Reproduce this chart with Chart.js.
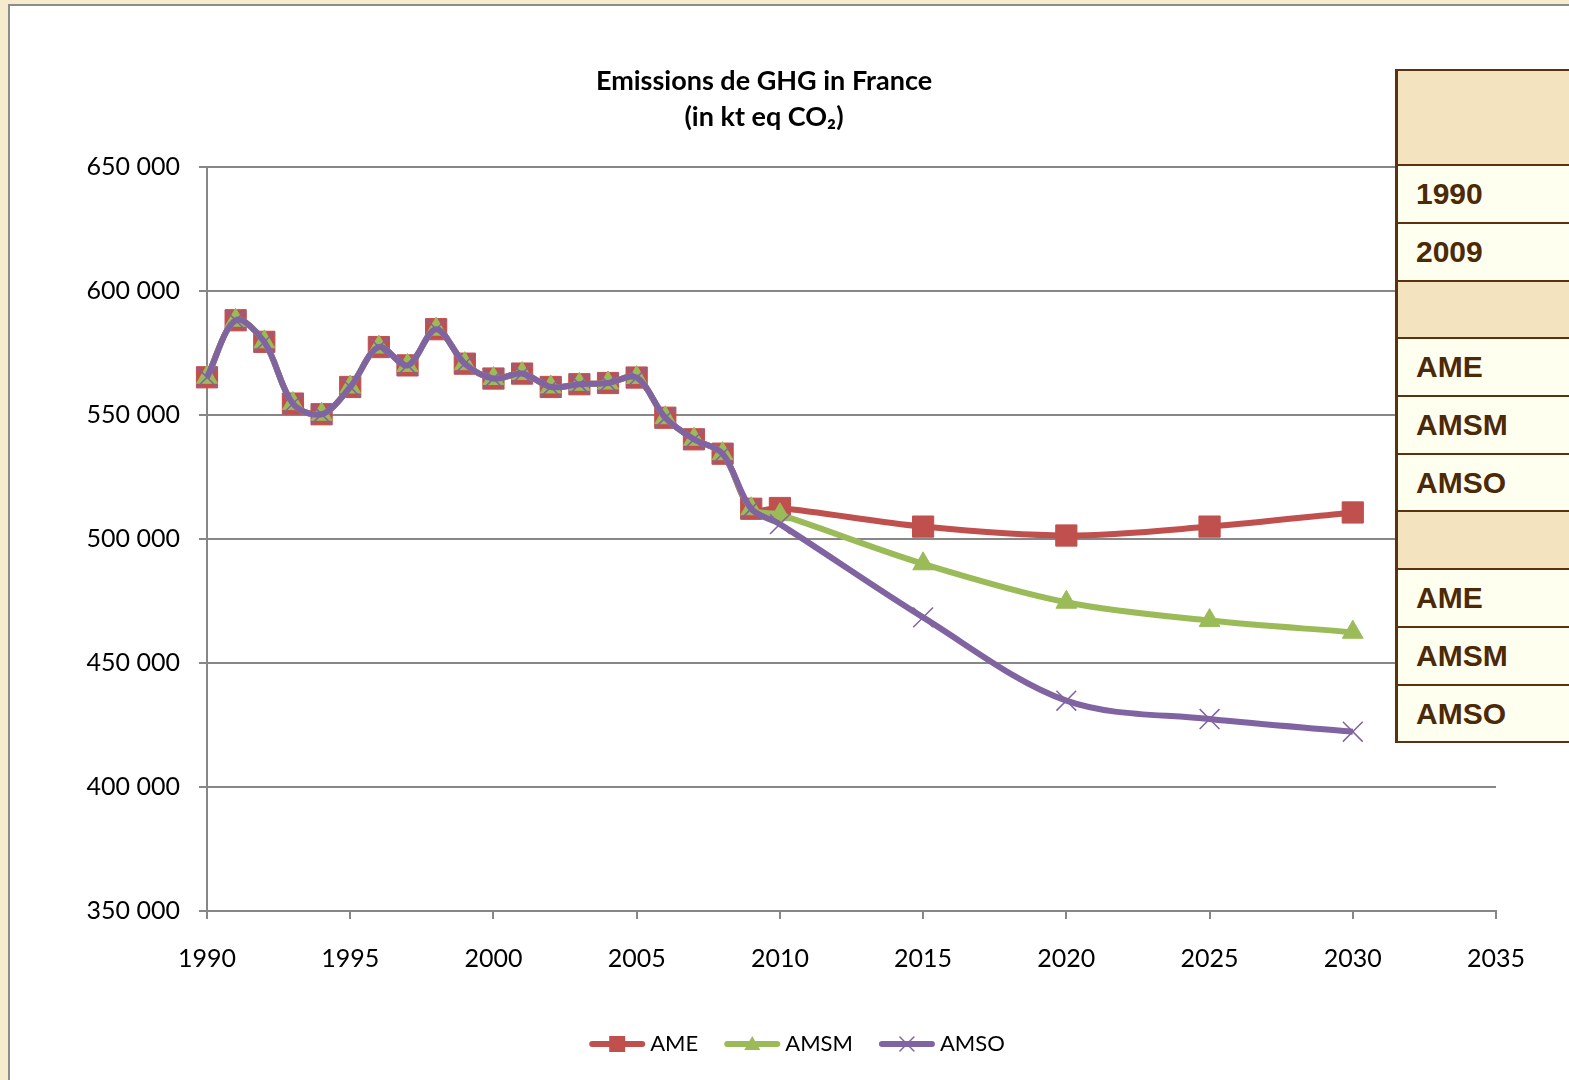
<!DOCTYPE html>
<html>
<head>
<meta charset="utf-8">
<script src="https://cdn.jsdelivr.net/npm/chart.js"></script>
<style>
  html, body { margin: 0; padding: 0; }
  body { width: 1569px; height: 1080px; background: #f6ebcd; position: relative; overflow: hidden; }
  #frame { position: absolute; left: 8px; top: 4px; width: 1600px; height: 1100px; background: #fff;
           border-left: 2px solid #8c8c8c; border-top: 2px solid #8c8c8c; }
  #wrap { position: absolute; left: 0; top: 0; width: 1569px; height: 1080px; }
  #tbl { position: absolute; left: 1395px; top: 69px; width: 200px;
         font-family: "Liberation Sans", Arial, sans-serif; font-weight: bold; font-size: 30px; color: #4c2907; }
  #tbl div { box-sizing: border-box; border-left: 3px solid #5a3210; border-top: 2px solid #5a3210;
             display: flex; align-items: center; padding-left: 18px; background: #fffff0; }
  #tbl div.sep { background: #f3e4bf; }
  #tbl div.last { border-bottom: 2px solid #5a3210; }
</style>
</head>
<body>
<div id="frame"></div>
<div id="wrap"><canvas id="myChart" width="1569" height="1080"></canvas></div>
<div id="tbl">
  <div class="sep" style="height:95px"></div>
  <div style="height:58px">1990</div>
  <div style="height:58px">2009</div>
  <div class="sep" style="height:57px"></div>
  <div style="height:58px">AME</div>
  <div style="height:58px">AMSM</div>
  <div style="height:57px">AMSO</div>
  <div class="sep" style="height:58px"></div>
  <div style="height:58px">AME</div>
  <div style="height:58px">AMSM</div>
  <div class="last" style="height:59px">AMSO</div>
</div>
<script>
// years of the measured series, then scenario years
var histYears = [1990, 1991, 1992, 1993, 1994, 1995, 1996, 1997, 1998, 1999,
                 2000, 2001, 2002, 2003, 2004, 2005, 2006, 2007, 2008, 2009];
var scenYears = [2010, 2015, 2020, 2025, 2030];

// kt eq CO2
var histValues = [565200, 588200, 579500, 554600, 550300, 561300, 577400, 570000, 584600, 570700,
                  564700, 566700, 561300, 562400, 562900, 565100, 548900, 540200, 534400, 512200];
var ameValues  = [512500, 505000, 501400, 505000, 510700];
var amsmValues = [509800, 490000, 474500, 467100, 462400];
var amsoValues = [506000, 468400, 434800, 427400, 422300];

var yTicks = [350000, 400000, 450000, 500000, 550000, 600000, 650000];
var xTicks = [1990, 1995, 2000, 2005, 2010, 2015, 2020, 2025, 2030, 2035];

var colAME = '#c0504d', colAMSM = '#9bbb59', colAMSO = '#8064a2';
var gridCol = '#878787';

function toPoints(years, values) {
    var pts = [];
    for (var i = 0; i < years.length; i++) pts.push({x: years[i], y: values[i]});
    return pts;
}
function serie(scen) {
    return toPoints(histYears.concat(scenYears), histValues.concat(scen));
}
function fmt(v) {
    return String(v).replace(/\B(?=(\d{3})+(?!\d))/g, ' ');
}

// legend: line + marker + text, drawn under the plot
var legendItems = [
    {label: 'AME', color: colAME, marker: 'rect'},
    {label: 'AMSM', color: colAMSM, marker: 'triangle'},
    {label: 'AMSO', color: colAMSO, marker: 'cross'}
];
var lineLegend = {
    id: 'lineLegend',
    afterDraw: function (chart) {
        var ctx = chart.ctx;
        ctx.save();
        ctx.font = '22px Lato';
        ctx.textBaseline = 'middle';
        var segW = 56, gap = 5, space = 26, y = 1044;
        var total = 0;
        legendItems.forEach(function (it, i) {
            total += segW + gap + ctx.measureText(it.label).width + (i ? space : 0);
        });
        var x = 797 - total / 2;
        legendItems.forEach(function (it) {
            ctx.strokeStyle = it.color;
            ctx.fillStyle = it.color;
            ctx.lineWidth = 6;
            ctx.lineCap = 'round';
            ctx.beginPath();
            ctx.moveTo(x + 3, y);
            ctx.lineTo(x + segW - 3, y);
            ctx.stroke();
            var cx = x + segW / 2;
            if (it.marker == 'rect') {
                ctx.fillRect(cx - 8, y - 8, 16, 16);
            } else if (it.marker == 'triangle') {
                ctx.beginPath();
                ctx.moveTo(cx, y - 8);
                ctx.lineTo(cx + 8, y + 6);
                ctx.lineTo(cx - 8, y + 6);
                ctx.closePath();
                ctx.fill();
            } else {
                ctx.lineWidth = 1.5;
                ctx.beginPath();
                ctx.moveTo(cx - 7, y - 7); ctx.lineTo(cx + 7, y + 7);
                ctx.moveTo(cx + 7, y - 7); ctx.lineTo(cx - 7, y + 7);
                ctx.stroke();
            }
            ctx.fillStyle = '#000';
            ctx.fillText(it.label, x + segW + gap, y);
            x += segW + gap + ctx.measureText(it.label).width + space;
        });
        ctx.restore();
    }
};

var ctx = document.getElementById('myChart').getContext('2d');
var chart = new Chart(ctx, {
    type: 'line',
    data: {
        datasets: [{
            label: 'AME',
            data: serie(ameValues),
            borderColor: colAME,
            backgroundColor: colAME,
            borderWidth: 6,
            pointStyle: 'rect',
            pointRadius: 15,
            pointBorderWidth: 1,
            order: 3
        }, {
            label: 'AMSM',
            data: serie(amsmValues),
            borderColor: colAMSM,
            backgroundColor: colAMSM,
            borderWidth: 6,
            pointStyle: 'triangle',
            pointRadius: 12,
            pointBorderWidth: 1,
            order: 2
        }, {
            label: 'AMSO',
            data: serie(amsoValues),
            borderColor: colAMSO,
            backgroundColor: colAMSO,
            borderWidth: 6,
            pointStyle: 'crossRot',
            pointRadius: 14,
            pointBorderWidth: 1.5,
            order: 1
        }]
    },
    options: {
        responsive: false,
        animation: false,
        datasets: { line: { tension: 0.33, clip: false } },
        layout: { padding: { left: 32, right: 73, top: 0, bottom: 0 } },
        plugins: {
            legend: { display: false },
            tooltip: { enabled: false },
            title: {
                display: true,
                text: ['Emissions de GHG in France', '(in kt eq CO\u2082)'],
                color: '#000',
                font: { family: 'Lato', size: 27, weight: 'bold', lineHeight: 1.3333 },
                padding: { top: 63, bottom: 32 }
            }
        },
        scales: {
            x: {
                type: 'linear',
                min: xTicks[0],
                max: xTicks[xTicks.length - 1],
                afterBuildTicks: function (s) { s.ticks = xTicks.map(function (v) { return {value: v}; }); },
                afterFit: function (s) { s.height = 169; },
                ticks: {
                    color: '#000',
                    font: { family: 'Lato', size: 25 },
                    padding: 25,
                    maxRotation: 0,
                    callback: function (v) { return String(v); }
                },
                grid: { drawOnChartArea: false, color: gridCol, lineWidth: 2, tickLength: 8 },
                border: { color: gridCol, width: 2 }
            },
            y: {
                min: yTicks[0],
                max: yTicks[yTicks.length - 1],
                afterBuildTicks: function (s) { s.ticks = yTicks.map(function (v) { return {value: v}; }); },
                afterFit: function (s) { s.width = 175; },
                ticks: {
                    color: '#000',
                    font: { family: 'Lato', size: 25 },
                    padding: 19,
                    callback: function (v) { return fmt(v); }
                },
                grid: { color: gridCol, lineWidth: 2, tickLength: 8 },
                border: { color: gridCol, width: 2 }
            }
        }
    },
    plugins: [lineLegend]
});
</script>
</body>
</html>
